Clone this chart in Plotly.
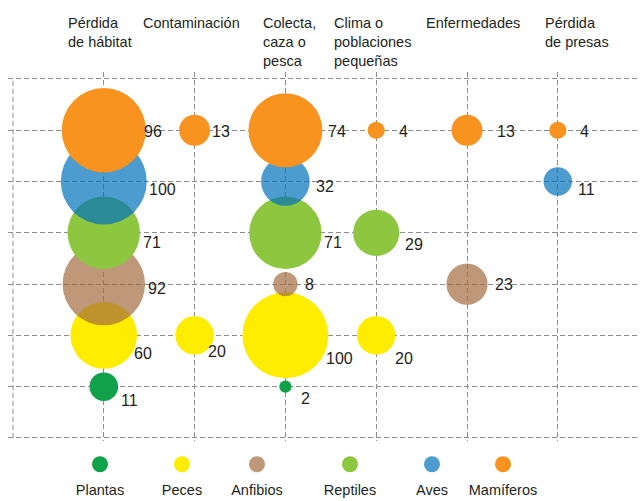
import plotly.graph_objects as go

# ---------------- data ----------------
threats = ["Pérdida<br>de hábitat", "Contaminación", "Colecta,<br>caza o<br>pesca",
           "Clima o<br>poblaciones<br>pequeñas", "Enfermedades", "Pérdida<br>de presas"]
groups = ["Plantas", "Peces", "Anfibios", "Reptiles", "Aves", "Mamíferos"]

plantas   = [11, None, 2, None, None, None]
peces     = [60, 20, 100, 20, None, None]
anfibios  = [92, None, 8, None, 23, None]
reptiles  = [71, None, 71, 29, None, None]
aves      = [100, None, 32, None, None, 11]
mamiferos = [96, 13, 74, 4, 13, 4]

values = {"Plantas": plantas, "Peces": peces, "Anfibios": anfibios,
          "Reptiles": reptiles, "Aves": aves, "Mamíferos": mamiferos}

# ---------------- styles ----------------
colors = {"Plantas": "#10A14A", "Peces": "#FFED00", "Anfibios": "rgba(162,108,64,0.7)",
          "Reptiles": "#8DC63F", "Aves": "rgba(0,114,188,0.7)", "Mamíferos": "#F7931E"}
# label nudges (px right of column centre, px below row centre)
label_nudge = {
    "Mamíferos": [(39, 1), (16, 1), (42, 1), (22, 1), (29, 1), (21, 1)],
    "Aves":      [(44, 8), None, (30, 5), None, None, (19, 8)],
    "Reptiles":  [(38, 10), None, (38, 10), (28, 12), None, None],
    "Anfibios":  [(43, 4), None, (19, 0), None, (27, 0), None],
    "Peces":     [(29, 18), (12, 16), (40, 23), (18, 23), None, None],
    "Plantas":   [(16, 14), None, (15, 12), None, None, None],
}
header_shift = [-37, -53, -23, -43, -42, -14]
legend_x = [100, 182, 257, 350, 432, 503]
TXT = "#231F20"
GRID = "#8C8C8C"
DASH = "5px,3px"
FONT = "Liberation Sans, Arial, sans-serif"

W, H = 640, 501
top_px, bot_px = 72, 441
plot_h = H - top_px  # paper height (b margin 0)
ydom0 = (H - bot_px) / plot_h

sizeref = 2 * 100 / 86 ** 2

fig = go.Figure()

for gi, g in enumerate(groups):
    vals = values[g]
    xs = [i + 1 for i, v in enumerate(vals) if v is not None]
    vs = [v for v in vals if v is not None]
    fig.add_trace(go.Scatter(
        x=xs, y=[gi + 1] * len(xs), mode="markers",
        marker=dict(size=vs, sizemode="area", sizeref=sizeref, color=colors[g],
                    opacity=1, line=dict(width=0)),
        hoverinfo="skip", showlegend=False, cliponaxis=False,
    ))
    for i, v in enumerate(vals):
        if v is None:
            continue
        dx, dy = label_nudge[g][i]
        fig.add_annotation(x=i + 1, y=gi + 1, xref="x", yref="y", text=str(v),
                           showarrow=False, xanchor="left", yanchor="middle",
                           xshift=dx - 1, yshift=-dy,
                           font=dict(size=16, color=TXT, family=FONT))

# headers
for i, t in enumerate(threats):
    fig.add_annotation(x=i + 1, y=(H - 13) / plot_h, xref="x", yref="paper", text=t,
                       showarrow=False, xanchor="left", yanchor="top", align="left",
                       xshift=header_shift[i] - 1,
                       font=dict(size=14.5, color=TXT, family=FONT))

# custom legend
leg_colors = [colors[g] for g in groups]
fig.add_trace(go.Scatter(x=legend_x, y=[464] * 6, xaxis="x2", yaxis="y2", mode="markers",
                         marker=dict(size=16, color=leg_colors, opacity=1, line=dict(width=0)),
                         hoverinfo="skip", showlegend=False, cliponaxis=False))
fig.add_trace(go.Scatter(x=legend_x, y=[491] * 6, xaxis="x2", yaxis="y2", mode="text",
                         text=groups, textposition="middle center",
                         textfont=dict(size=14.5, color=TXT, family=FONT),
                         hoverinfo="skip", showlegend=False, cliponaxis=False))

# left border
fig.add_shape(type="line", xref="x", yref="y", x0=0, x1=0, y0=0, y1=7,
              line=dict(color=GRID, width=1, dash=DASH), layer="below")

x_unit = 90.8
x_left = 13 - 0.05 * x_unit
fig.update_layout(
    width=W, height=H,
    margin=dict(l=0, r=0, t=top_px, b=0, pad=0),
    paper_bgcolor="white", plot_bgcolor="white",
    font=dict(family=FONT, color=TXT),
    xaxis=dict(domain=[x_left / W, 1], range=[-0.05, (W - 13) / x_unit],
               tickvals=[1, 2, 3, 4, 5, 6], showticklabels=False, ticks="",
               showgrid=True, gridcolor=GRID, griddash=DASH, gridwidth=1,
               zeroline=False, showline=False, fixedrange=True),
    yaxis=dict(domain=[ydom0, 1], range=[-0.06, 7.136],
               tickvals=[0, 1, 2, 3, 4, 5, 6, 7], showticklabels=False, ticks="",
               showgrid=True, gridcolor=GRID, griddash=DASH, gridwidth=1,
               zeroline=False, showline=False, fixedrange=True),
    xaxis2=dict(domain=[0, 1], range=[0, W], visible=False, anchor="y2", fixedrange=True),
    yaxis2=dict(domain=[0, ydom0 - 0.001], range=[H, bot_px], visible=False,
                anchor="x2", fixedrange=True),
    showlegend=False,
)

fig.write_html("out.html", config={"displayModeBar": False},
               post_script="document.body.style.margin='0';document.body.style.overflow='hidden';")
